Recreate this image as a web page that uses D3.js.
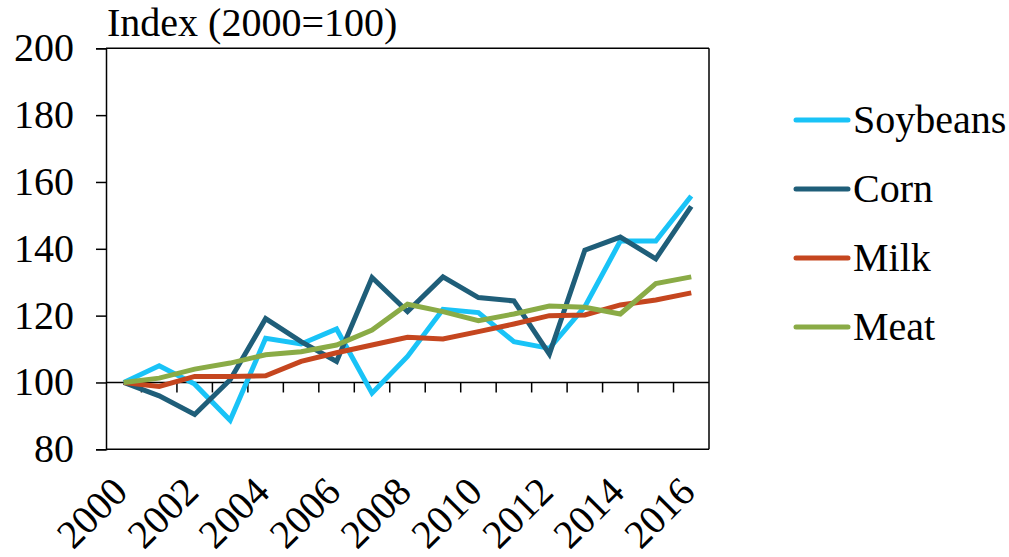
<!DOCTYPE html>
<html><head><meta charset="utf-8"><script src="https://cdn.jsdelivr.net/npm/d3@7"></script></head>
<body style="margin:0">
<svg id="chart" width="1009" height="557"></svg>
<script>
const years = ["2000","2001","2002","2003","2004","2005","2006","2007","2008","2009","2010","2011","2012","2013","2014","2015","2016"];
const yearLabels = ["2000","2002","2004","2006","2008","2010","2012","2014","2016"];
const yTicks = [80, 100, 120, 140, 160, 180, 200];
const seriesNames = ["Soybeans", "Corn", "Milk", "Meat"];
const soybeans = [100, 105, 99.5, 88.7, 113.2, 111.5, 116, 96.8, 107.8, 121.9, 120.9, 112.2, 110.2, 122.7, 142.3, 142.3, 155.8];
const corn     = [100, 96, 90.4, 100.8, 119.1, 112.2, 106.3, 131.4, 121.2, 131.6, 125.4, 124.4, 108.5, 139.6, 143.5, 137, 152.7];
const milk     = [100, 98.8, 101.8, 101.8, 102, 106.3, 108.9, 111.2, 113.5, 113, 115.2, 117.5, 120, 120.2, 123.2, 124.7, 126.8];
const meat     = [100, 101.3, 104, 105.8, 108.3, 109.2, 111.2, 115.7, 123.4, 121.2, 118.5, 120.5, 122.9, 122.5, 120.5, 129.6, 131.6];
const colors = ["#19C3F7", "#1F5E79", "#C5461F", "#8AAB46"];
const title = "Index (2000=100)";

const seriesValues = [soybeans, corn, milk, meat];

const svg = d3.select("#chart");
const pLeft = 106, pRight = 709, pTop = 48.3, pBottom = 449.3;
const fontSize = 40;
const FONT = d => '"Liberation Serif"';

const x = d3.scaleBand().domain(years).range([pLeft, pRight]).padding(0);
const bw = x.bandwidth();
const cx = d => x(d) + bw / 2;
const y = d3.scaleLinear().domain([80, 200]).range([pBottom, pTop]);

// plot frame (top, right, bottom borders)
const frame = svg.append("g").attr("stroke", "#000").attr("stroke-width", 1.5).attr("fill", "none");
frame.append("line").attr("x1", pLeft).attr("x2", pRight).attr("y1", y(200)).attr("y2", y(200));
frame.append("line").attr("x1", pRight).attr("x2", pRight).attr("y1", y(200)).attr("y2", y(80));
frame.append("line").attr("x1", pLeft).attr("x2", pRight).attr("y1", y(80)).attr("y2", y(80));

// y axis (ticks + domain from d3 axis)
const yAxis = d3.axisLeft(y).tickValues(yTicks).tickSize(10).tickFormat("");
const gy = svg.append("g").attr("transform", `translate(${pLeft},0)`).call(yAxis);
gy.select(".domain").attr("stroke", "#000").attr("stroke-width", 1.5);
gy.selectAll(".tick line").attr("stroke", "#000").attr("stroke-width", 1.5);
gy.selectAll(".tick text").remove();

// x axis line at 100 with ticks between categories
const boundaries = years.slice(1);
const gx = svg.append("g");
gx.append("line").attr("x1", pLeft).attr("x2", pRight).attr("y1", y(100)).attr("y2", y(100))
  .attr("stroke", "#000").attr("stroke-width", 1.5);
gx.selectAll("line.tk").data(boundaries).enter().append("line").attr("class", "tk")
  .attr("x1", d => x(d)).attr("x2", d => x(d))
  .attr("y1", y(100)).attr("y2", y(100) + 10)
  .attr("stroke", "#000").attr("stroke-width", 1.5);

// lines
const line = d3.line().x((d, i) => cx(years[i])).y(d => y(d));
svg.append("g").selectAll("path").data(seriesValues).enter().append("path")
  .attr("d", d => line(d))
  .attr("fill", "none")
  .attr("stroke", (d, i) => colors[i])
  .attr("stroke-width", 5)
  .attr("stroke-linejoin", "miter")
  .attr("stroke-linecap", "butt");

// legend lines
const legY = d3.scalePoint().domain(seriesNames).range([120, 327]);
svg.append("g").selectAll("line").data(seriesNames).enter().append("line")
  .attr("x1", 796).attr("x2", 848)
  .attr("y1", d => legY(d)).attr("y2", d => legY(d))
  .attr("stroke", (d, i) => colors[i])
  .attr("stroke-width", 5)
  .attr("stroke-linecap", "round");

// texts
svg.selectAll("text.ylab").data(yTicks).enter().append("text").attr("class", "ylab")
  .attr("x", 74).attr("y", d => y(d) + 13)
  .attr("text-anchor", "end")
  .attr("font-size", fontSize)
  .style("font-family", FONT)
  .text(d => d);

svg.selectAll("text.xlab").data(yearLabels).enter().append("text").attr("class", "xlab")
  .attr("transform", d => `translate(${cx(d) + 6},494) rotate(-45)`)
  .attr("text-anchor", "end")
  .attr("font-size", fontSize)
  .style("font-family", FONT)
  .text(d => d);

svg.selectAll("text.title").data([title]).enter().append("text").attr("class", "title")
  .attr("x", 107).attr("y", 36)
  .attr("font-size", fontSize)
  .style("font-family", FONT)
  .text(d => d);

svg.selectAll("text.leg").data(seriesNames).enter().append("text").attr("class", "leg")
  .attr("x", 853).attr("y", d => legY(d) + 13)
  .attr("font-size", fontSize)
  .style("font-family", FONT)
  .text(d => d);
</script>
</body>
</html>
